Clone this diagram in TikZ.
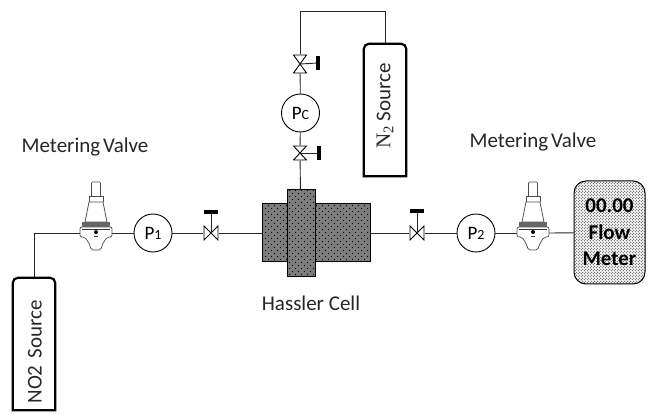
\documentclass[tikz,border=0pt]{standalone}
\usepackage{fontspec}
\setmainfont{Carlito}
\newfontfamily\serifnum{Liberation Serif}
\usetikzlibrary{patterns, positioning, calc}
\pgfdeclarepatternformonly{celldots}{\pgfqpoint{-1pt}{-1pt}}{\pgfqpoint{7pt}{7pt}}{\pgfqpoint{6pt}{6pt}}{
  \pgfpathcircle{\pgfqpoint{1.5pt}{1.5pt}}{.65pt}
  \pgfpathcircle{\pgfqpoint{4.5pt}{4.5pt}}{.65pt}
  \pgfusepath{fill}}
\pgfdeclarepatternformonly{meterdots}{\pgfqpoint{-1pt}{-1pt}}{\pgfqpoint{4pt}{4pt}}{\pgfqpoint{3pt}{3pt}}{
  \pgfpathcircle{\pgfqpoint{.75pt}{.75pt}}{.62pt}
  \pgfpathcircle{\pgfqpoint{2.25pt}{2.25pt}}{.62pt}
  \pgfusepath{fill}}
\definecolor{cellgray}{RGB}{125, 125, 125}
\definecolor{metergray}{RGB}{70, 70, 70}

\begin{document}
\begin{tikzpicture}[
  x=1pt, y=-1pt,
  pipe/.style={line width=0.9pt, black!85},
  tank/.style={minimum width=42, minimum height=132, inner sep=0},
  tankline/.style={line width=2.2pt, black},
  gauge/.style={draw, circle, fill=white, line width=0.9pt, minimum size=38, inner sep=0, font=\fontsize{19}{19}\selectfont},
  valveh/.style={minimum width=15, minimum height=15, inner sep=0, path picture={
    \draw[line width=0.9pt, fill=white] ($(path picture bounding box.south west)+(.5,-.5)$) -- ($(path picture bounding box.north east)+(-.5,.5)$)
      -- ($(path picture bounding box.south east)+(-.5,-.5)$) -- ($(path picture bounding box.north west)+(.5,.5)$) -- cycle;}},
  valvev/.style={minimum width=14, minimum height=#1, inner sep=0, path picture={
    \draw[line width=0.9pt, fill=white] ($(path picture bounding box.south west)+(.5,-.5)$) -- ($(path picture bounding box.north east)+(-.5,.5)$)
      -- ($(path picture bounding box.north west)+(.5,.5)$) -- ($(path picture bounding box.south east)+(-.5,-.5)$) -- cycle;}},
  handleh/.style={fill=black, minimum width=14, minimum height=4, inner sep=0},
  handlev/.style={fill=black, minimum width=4, minimum height=14, inner sep=0},
  cellbox/.style={draw, line width=1pt, inner sep=0, preaction={fill=cellgray}, pattern=celldots, pattern color=black},
  regbox/.style={minimum width=32, minimum height=10, inner sep=0},
  lab/.style={font=\fontsize{21}{24}\selectfont, text=black!85},
  regulator/.pic={
    \draw[line width=0.6pt, black!70, fill=white, rounded corners=1] (-4.5,-37) -- (-4.5,-51) -- (4.5,-51) -- (4.5,-37);
    \draw[line width=0.6pt, black!70, fill=white] (-7,-31) -- (-7,-37) -- (7,-37) -- (7,-31);
    \draw[line width=0.7pt, black!70, fill=white] (-7,-31) -- (-11,-11) -- (11,-11) -- (7,-31) -- cycle;
    \draw[line width=0.7pt, black!70, fill=white, rounded corners=2] (-16,-6) -- (-16,4) -- (-11,4) -- (-6,12) -- (-5,17) -- (5,17) -- (6,12) -- (11,4) -- (16,4) -- (16,-6) -- cycle;
    \fill[black!60] (-14,-11) rectangle (14,-6);
    \draw[black!80, line width=0.5pt] (-14,-4) -- (14,-4);
    \fill[black] (0,-1) circle (2);
    \fill[black!70] (-2,3) rectangle (2,4.5);
  }
]
  \useasboundingbox (0,0) rectangle (654,414);

  \node[tank] (no2) at (34,344) {};
  \node[tank] (n2) at (385,110) {};
  \node[regbox] (reg1) at (96,233) {};
  \node[regbox] (reg2) at (533,233) {};
  \node[gauge] (p1) at (153,233) {P{\fontsize{14}{14}\selectfont 1}};
  \node[gauge] (p2) at (476,233) {P{\fontsize{14}{14}\selectfont 2}};
  \node[gauge] (pc) at (300.5,113) {P{\fontsize{14}{14}\selectfont C}};
  \node[valveh] (v1) at (211,233) {};
  \node[valveh] (v2) at (417,233) {};
  \node[valvev=19] (vtop) at (300,64) {};
  \node[valvev=15] (vlow) at (300,153) {};
  \node[handleh] (h1) at (211,212) {};
  \node[handleh] (h2) at (417,211) {};
  \node[handlev] (h3) at (318,63) {};
  \node[handlev] (h4) at (319,153) {};
  \node[cellbox, minimum width=108, minimum height=58] (cell) at (316,233) {};
  \node[cellbox, minimum width=28, minimum height=87] (flange) at (301,233.5) {};
  \node[draw, line width=1pt, rounded corners=12, minimum width=71, minimum height=103, inner sep=0,
        preaction={fill=white}, pattern=meterdots, pattern color=metergray,
        align=center, font=\fontsize{21}{26.5}\selectfont\bfseries] (meter) at (609.5,232.5) {00.00\\Flow\\Meter};
  \coordinate (ntop) at (300,11);

  \draw[pipe] (no2.north) |- (reg1.west);
  \draw[pipe] (reg1.east) -- (p1);
  \draw[pipe] (p1) -- (v1);
  \draw[pipe] (v1) -- (cell);
  \draw[pipe] (cell) -- (v2);
  \draw[pipe] (v2) -- (p2);
  \draw[pipe] (p2) -- (reg2.west);
  \draw[pipe] (reg2.east) -- (meter);
  \draw[pipe] (flange) -- (vlow);
  \draw[pipe] (vlow) -- (pc);
  \draw[pipe] (pc) -- (vtop);
  \draw[pipe] (vtop) -- (ntop);
  \draw[pipe] (ntop) -| (n2.north);
  \draw[pipe] (v1.center) -- (h1);
  \draw[pipe] (v2.center) -- (h2);
  \draw[pipe] (vtop.center) -- (h3);
  \draw[pipe] (vlow.center) -- (h4);

  \draw[tankline] (no2.south west) [rounded corners=5] -- (no2.north west) -- (no2.north east) [sharp corners] -- (no2.south east) -- cycle;
  \draw[tankline] (n2.south west) [rounded corners=5] -- (n2.north west) -- (n2.north east) [sharp corners] -- (n2.south east) -- cycle;

  \pic at (96,233) {regulator};
  \pic at (533,233) {regulator};

  \node[lab, rotate=90] (no2text) at (35,352) {NO2\hspace{2pt} Source};
  \node[lab, rotate=90] (n2text) at (385,106) {{\serifnum N\textsubscript{2}} Source};
  \node[lab] (mv1) at (85,147) {Metering\hspace{-2pt} Valve};
  \node[lab] (mv2) at (533,142) {Metering\hspace{-2pt} Valve};
  \node[lab] (hassler) at (311,303) {Hassler Cell};
\end{tikzpicture}
\end{document}
